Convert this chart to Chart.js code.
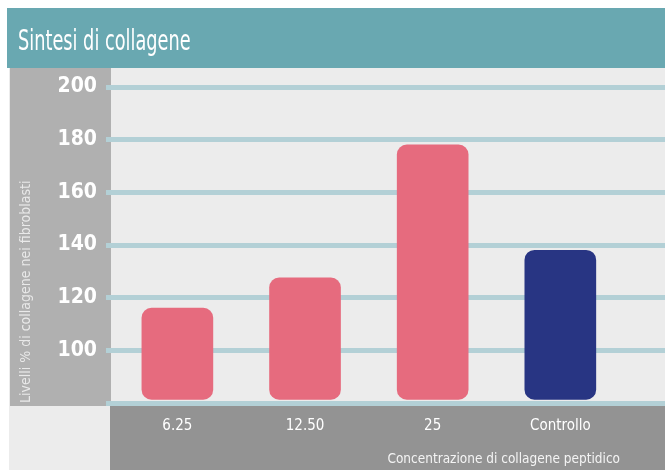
<!DOCTYPE html>
<html>
<head>
<meta charset="utf-8">
<script src="https://cdn.jsdelivr.net/npm/chart.js@4/dist/chart.umd.min.js"></script>
<style>html,body{margin:0;padding:0;background:#fff}#wrap{width:665px;height:470px}</style>
</head>
<body>
<div id="wrap"><canvas id="c" width="665" height="470"></canvas></div>
<script>
const categories=['6.25','12.50','25','Controllo'];
const values=[116,127.5,178,138];
const barColors=['#e66b7e','#e66b7e','#e66b7e','#283583'];
const yTicks=[80,100,120,140,160,180,200];
const titleText='Sintesi di collagene';
const yTitle='Livelli % di collagene nei fibroblasti';
const xTitle='Concentrazione di collagene peptidico';

const FONT="'Liberation Sans Narrow','DejaVu Sans Condensed',sans-serif";

// flat panels behind the chart, the heading and the x axis caption
const panels={id:'panels',
 beforeDraw(chart){
  const {ctx,chartArea:a}=chart;const W=chart.width,H=chart.height;
  ctx.save();
  ctx.fillStyle='#fff';ctx.fillRect(0,0,W,H);
  ctx.fillStyle='#ececec';ctx.fillRect(9,68,W-9,H-68);
  ctx.fillStyle='#69a8b1';ctx.fillRect(7,8,W-7,60);
  ctx.fillStyle='#b0b0b0';ctx.fillRect(10,68,a.left-10,a.bottom+3-68);
  ctx.fillStyle='#939393';ctx.fillRect(a.left-1,a.bottom+3,W-a.left+1,H-a.bottom-3);
  // heading, condensed like the original typeface
  ctx.translate(18,50);ctx.scale(0.68,1);
  ctx.font='29px '+FONT;ctx.fillStyle='#fff';ctx.textBaseline='alphabetic';
  ctx.fillText(titleText,0,0);
  ctx.restore();
 },
 afterDraw(chart){
  const {ctx}=chart;
  ctx.save();
  ctx.font='13.5px '+FONT;ctx.fillStyle='#f4f4f4';ctx.textAlign='right';ctx.textBaseline='middle';
  ctx.fillText(xTitle,620,459);
  ctx.restore();
 }};

new Chart(document.getElementById('c'),{
 type:'bar',
 data:{datasets:[{
  data:values.map((v,i)=>({x:i,y:v})),
  base:81.4,
  backgroundColor:barColors,
  borderRadius:10,borderSkipped:false,barThickness:71
 }]},
 options:{
  responsive:false,animation:false,
  layout:{padding:{left:18,top:87,right:0,bottom:0}},
  plugins:{legend:{display:false},tooltip:{enabled:false},title:{display:false}},
  scales:{
   x:{type:'linear',min:-0.52,max:3.82,offset:false,
    afterFit(s){s.height=67;},
    afterBuildTicks(s){s.ticks=categories.map((c,i)=>({value:i}));},
    ticks:{color:'#fff',padding:14,maxRotation:0,font:{family:FONT,size:15},callback:v=>categories[v]},
    grid:{display:false,drawTicks:false,offset:false},border:{display:false}},
   y:{min:80,max:200,
    afterFit(s){s.width=93;},
    afterBuildTicks(s){s.ticks=yTicks.map(v=>({value:v}));},
    ticks:{color:'#fff',padding:9,font:{family:FONT,size:21,weight:'bold'},callback:v=>v===80?'':v},
    grid:{color:'#b3d0d6',lineWidth:5,tickLength:5,tickColor:'#b3d0d6'},border:{display:false},
    title:{display:true,text:yTitle,align:'start',color:'#e9e9e9',font:{family:FONT,size:14},padding:0}}
  }
 },
 plugins:[panels]
});
</script>
</body>
</html>
